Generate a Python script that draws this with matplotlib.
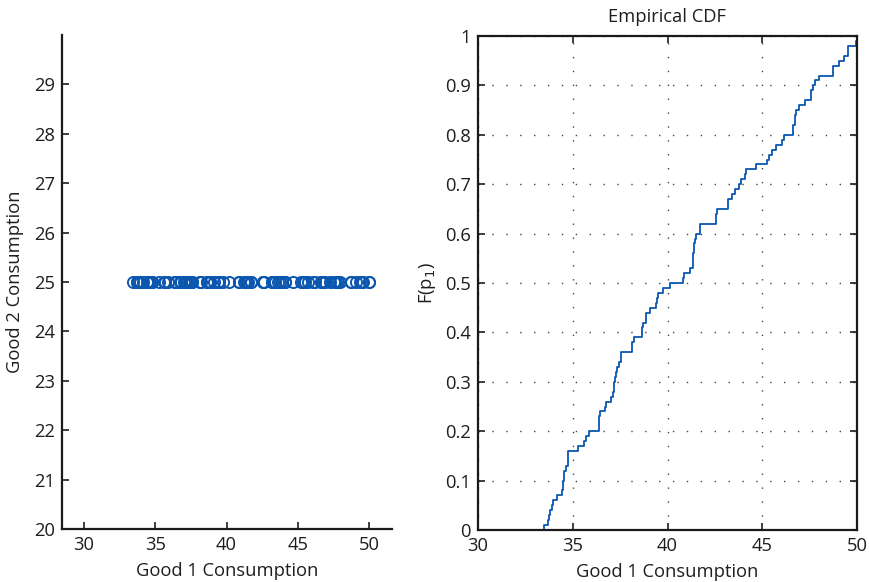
import numpy as np
import matplotlib
matplotlib.use('Agg')
import matplotlib.pyplot as plt

plt.rcParams['font.family'] = ['Open Sans', 'DejaVu Sans']

# Sampled good 1 consumption (100 draws, sorted)
good1 = [
    33.47, 33.72, 33.74, 33.82, 33.93, 33.95, 34.17, 34.42, 34.46, 34.48,
    34.53, 34.55, 34.66, 34.74, 34.75, 34.76, 35.28, 35.61, 35.70, 35.86,
    36.39, 36.40, 36.41, 36.42, 36.70, 36.77, 37.02, 37.15, 37.16, 37.17,
    37.24, 37.26, 37.34, 37.46, 37.55, 37.57, 38.13, 38.15, 38.22, 38.63,
    38.65, 38.71, 38.84, 38.86, 39.09, 39.41, 39.47, 39.49, 39.75, 40.15,
    40.84, 40.86, 41.20, 41.34, 41.35, 41.36, 41.41, 41.42, 41.43, 41.52,
    41.69, 41.71, 42.57, 42.58, 42.59, 43.17, 43.19, 43.40, 43.58, 43.76,
    43.90, 44.10, 44.12, 44.69, 45.25, 45.34, 45.51, 45.74, 46.04, 46.17,
    46.60, 46.62, 46.74, 46.75, 46.76, 46.92, 47.27, 47.56, 47.58, 47.68,
    47.80, 47.98, 48.72, 48.74, 49.07, 49.33, 49.52, 49.54, 49.96, 49.98,
]
good2 = [25.0] * len(good1)

blue = '#0b57b0'
tick_color = '#1e1e1e'
fs = 13.2

fig = plt.figure(figsize=(8.69, 5.82), dpi=100)

# left: consumption bundle scatter
ax1 = fig.add_axes([62 / 869, 53 / 582, 330 / 869, 494 / 582])
ax1.plot(good1, good2, 'o', mfc='none', mec=blue, ms=8, mew=1.4)
ax1.set_xlim(28.46, 51.6)
ax1.set_ylim(20, 30)
ax1.set_xticks([30, 35, 40, 45, 50])
ax1.set_yticks(range(20, 30))
ax1.spines['top'].set_visible(False)
ax1.spines['right'].set_visible(False)
ax1.set_xlabel('Good 1 Consumption', fontsize=fs, color=tick_color, labelpad=6)
ax1.set_ylabel('Good 2 Consumption', fontsize=fs, color=tick_color, labelpad=7)

# right: empirical CDF
x_sorted = np.sort(np.array(good1))
F = np.arange(1, len(x_sorted) + 1) / len(x_sorted)
xs = np.concatenate([[x_sorted[0]], x_sorted])
ys = np.concatenate([[0.0], F])

ax2 = fig.add_axes([478 / 869, 52 / 582, 379 / 869, 494 / 582])
ax2.step(xs, ys, where='post', color=blue, lw=1.3, clip_on=False)
ax2.set_xlim(30, 50)
ax2.set_ylim(0, 1)
ax2.set_xticks([30, 35, 40, 45, 50])
ax2.set_yticks(np.round(np.arange(0, 1.01, 0.1), 1))
ax2.set_yticklabels(['0'] + [f'{v:.1f}' for v in np.arange(0.1, 0.95, 0.1)] + ['1'])
ax2.grid(True, color='#444444', linestyle=(0, (1, 9)), lw=1.0)
ax2.set_title('Empirical CDF', fontsize=fs, color=tick_color, pad=10)
ax2.set_xlabel('Good 1 Consumption', fontsize=fs, color=tick_color, labelpad=6)
ax2.set_ylabel('F(p$_1$)', fontsize=fs, color=tick_color, labelpad=5)
ax2.tick_params(top=True, right=True)

for ax in (ax1, ax2):
    for s in ax.spines.values():
        s.set_linewidth(1.6)
        s.set_color('#1a1a1a')
    ax.tick_params(direction='in', length=5, width=1.2, labelsize=fs,
                   colors=tick_color, pad=5)

fig.savefig('out.png', dpi=100)
